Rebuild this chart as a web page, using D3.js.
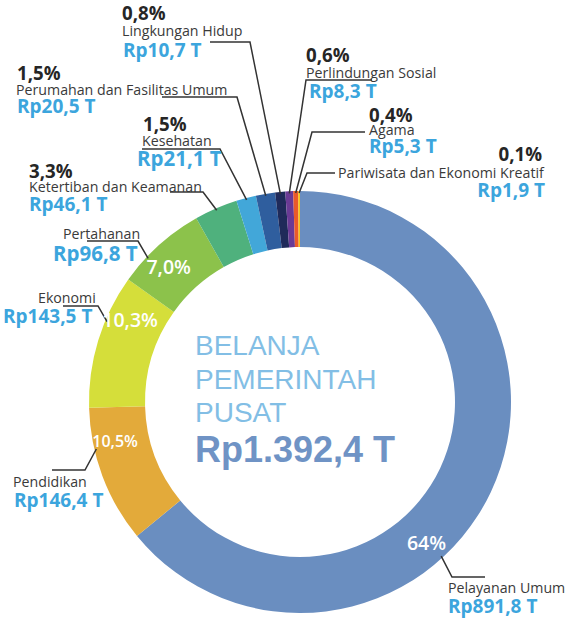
<!DOCTYPE html>
<html>
<head>
<meta charset="utf-8">
<script src="https://cdn.jsdelivr.net/npm/d3@7/dist/d3.min.js"></script>
<style>
    body { margin: 0; background: #ffffff; }
    svg { display: block; }
    .name { font-family: "Open Sans", sans-serif; font-size: 14.2px; fill: #3a3a3a; }
    .amount { font-family: "Open Sans", sans-serif; font-size: 19px; font-weight: 700; fill: #3ca5dd; }
    .pct { font-family: "Open Sans", sans-serif; font-size: 18.7px; font-weight: 700; fill: #262626; }
    .inside { font-family: "Open Sans", sans-serif; font-size: 19.5px; font-weight: 600; fill: #ffffff; }
    .leader { fill: none; stroke: #333333; stroke-width: 1.5px; }
    .title { font-family: "Liberation Sans", Arial, sans-serif; font-size: 28px; fill: #82bee5; }
    .total { font-family: "Liberation Sans", Arial, sans-serif; font-size: 36px; font-weight: 700; fill: #6f93c5; }
</style>
</head>
<body>
<svg id="chart" width="573" height="624"></svg>
<script>
// Belanja pemerintah pusat per fungsi (triliun rupiah)
const categories = [
    "Pelayanan Umum", "Pendidikan", "Ekonomi", "Pertahanan", "Ketertiban dan Keamanan",
    "Kesehatan", "Perumahan dan Fasilitas Umum", "Lingkungan Hidup", "Perlindungan Sosial",
    "Agama", "Pariwisata dan Ekonomi Kreatif"
];
const values = [891.8, 146.4, 143.5, 96.8, 46.1, 21.1, 20.5, 10.7, 8.3, 5.3, 1.9];
const percentLabels = ["64%", "10,5%", "10,3%", "7,0%", "3,3%", "1,5%", "1,5%", "0,8%", "0,6%", "0,4%", "0,1%"];
const amountLabels = ["Rp891,8 T", "Rp146,4 T", "Rp143,5 T", "Rp96,8 T", "Rp46,1 T", "Rp21,1 T",
    "Rp20,5 T", "Rp10,7 T", "Rp8,3 T", "Rp5,3 T", "Rp1,9 T"];
const titleLines = ["BELANJA", "PEMERINTAH", "PUSAT"];
const totalLabel = "Rp1.392,4 T";

const sliceColors = ["#6a8ec0", "#e3aa3a", "#d5de3a", "#8cc24b", "#4fb17d", "#42a7d9",
    "#2f5e9e", "#1f2a5a", "#6a3a95", "#ea5a2a", "#f5c21a"];

// where each label block sits; "inside" = angle (deg) of the white label in the ring
const annotations = [
    { inside: 138, from: 137.5, elbow: [452, 577], tail: 485, x: 448, nameY: 593, amountY: 613 },
    { inside: 258, insideSize: 16, from: 257, elbow: [85, 470], tail: 52, x: 13, nameY: 487, amountX: 14, amountY: 507 },
    { inside: 296, from: 292.6, elbow: [98, 306], tail: 63, x: 38, nameY: 303, amountX: 3, amountY: 323 },
    { inside: 316, from: 313.4, elbow: [138, 241], tail: 87, x: 63, nameY: 239, amountX: 53, amountY: 261, amountSize: 20.5 },
    { elbow: [203, 192], tail: 170, x: 29, pctY: 178, nameY: 192, amountY: 211 },
    { elbow: [220, 149], tail: 142, x: 142, pctX: 143, pctY: 131, nameY: 146, amountX: 137, amountY: 166, amountSize: 20.5 },
    { elbow: [237, 97], tail: 162, x: 16, pctX: 17, pctY: 80, nameY: 95, amountX: 17, amountY: 113 },
    { elbow: [250, 42], tail: 210, x: 122, pctY: 20, nameY: 36, amountX: 123, amountY: 57 },
    { elbow: [306, 80], tail: 372, x: 306, pctY: 62, nameY: 78, amountX: 309, amountY: 98 },
    { elbow: [312, 132], tail: 365, x: 369, pctY: 122, nameY: 135, amountY: 153 },
    { elbow: [307, 173], tail: 335, x: 338, nameY: 178, pctX: 542, pctY: 161, amountX: 545, amountY: 197, end: true }
];

const svg = d3.select("#chart");
const center = { x: 300, y: 402 };
const outerRadius = 211;
const innerRadius = 155;

const pie = d3.pie().sort(null).value((d) => d).startAngle(0).endAngle(2 * Math.PI);
const arc = d3.arc().innerRadius(innerRadius).outerRadius(outerRadius);
const color = d3.scaleOrdinal().domain(categories).range(sliceColors);

const slices = pie(values);

/**
 * Point on a circle round the donut center, angle in radians from 12 o'clock, clockwise
 */
function pointAt(angle, radius) {
    return [center.x + radius * Math.sin(angle), center.y - radius * Math.cos(angle)];
}

const rad = (deg) => (deg * Math.PI) / 180;

// donut
svg.append("g")
    .attr("transform", `translate(${center.x},${center.y})`)
    .selectAll("path")
    .data(slices)
    .enter()
    .append("path")
    .attr("d", arc)
    .attr("fill", (d, i) => color(categories[i]));

// leader lines
svg.append("g")
    .selectAll("path")
    .data(slices)
    .enter()
    .append("path")
    .attr("class", "leader")
    .attr("d", function (d, i) {
        let a = annotations[i];
        let angle = a.from !== undefined ? rad(a.from) : (d.startAngle + d.endAngle) / 2;
        let start = pointAt(angle, outerRadius - 2);
        return d3.line()([start, a.elbow, [a.tail, a.elbow[1]]]);
    });

// white percentages inside the ring
slices.forEach(function (d, i) {
    let a = annotations[i];
    if (a.inside === undefined) return;
    let p = pointAt(rad(a.inside), (innerRadius + outerRadius) / 2 + 6);
    svg.append("text")
        .attr("class", "inside")
        .attr("x", p[0])
        .attr("y", p[1])
        .attr("text-anchor", "middle")
        .attr("dominant-baseline", "central")
        .style("font-size", (a.insideSize || 19.5) + "px")
        .text(percentLabels[i]);
});

// outside text blocks
const labels = svg.append("g");
annotations.forEach(function (a, i) {
    let anchor = a.end ? "end" : "start";
    if (a.inside === undefined) {
        labels.append("text")
            .attr("class", "pct")
            .attr("x", a.pctX !== undefined ? a.pctX : a.x)
            .attr("y", a.pctY)
            .attr("text-anchor", anchor)
            .text(percentLabels[i]);
    }
    labels.append("text")
        .attr("class", "name")
        .attr("x", a.x)
        .attr("y", a.nameY)
        .text(categories[i]);
    labels.append("text")
        .attr("class", "amount")
        .attr("x", a.amountX !== undefined ? a.amountX : a.x)
        .attr("y", a.amountY)
        .attr("text-anchor", anchor)
        .style("font-size", a.amountSize ? a.amountSize + "px" : null)
        .text(amountLabels[i]);
});

// center title
svg.append("g")
    .selectAll("text")
    .data(titleLines)
    .enter()
    .append("text")
    .attr("class", "title")
    .attr("x", 195)
    .attr("y", (d, i) => 355 + i * 33.5)
    .text((d) => d);

svg.append("text")
    .attr("class", "total")
    .attr("x", 195)
    .attr("y", 462)
    .text(totalLabel);
</script>
</body>
</html>
